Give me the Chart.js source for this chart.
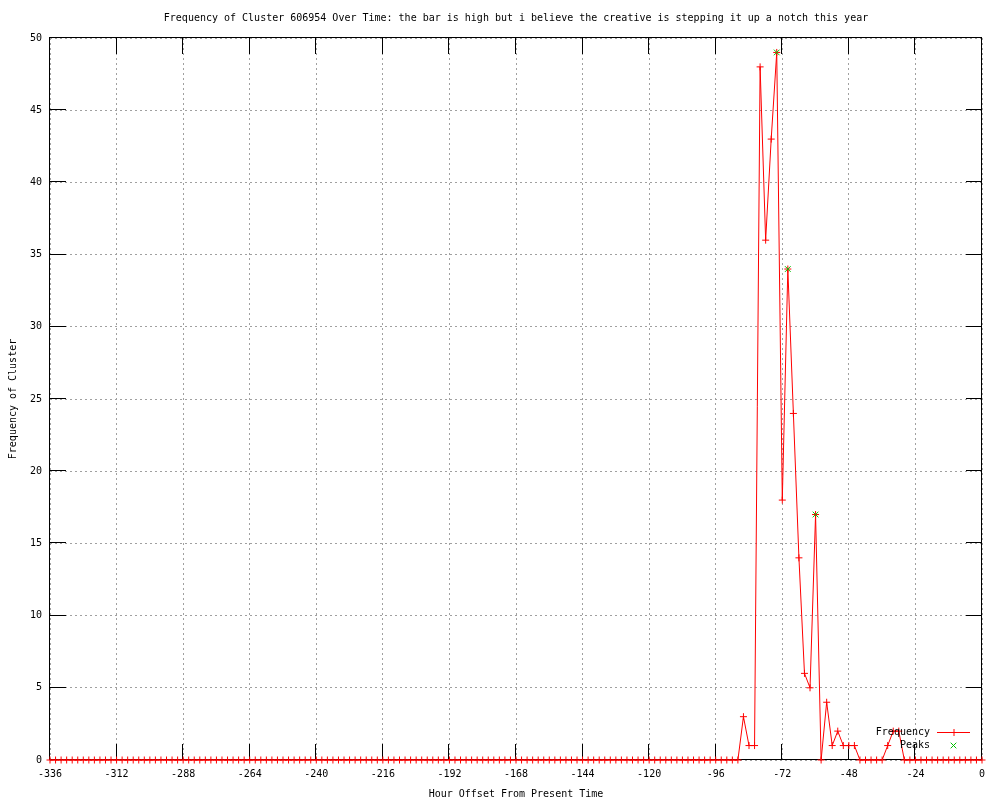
<!DOCTYPE html>
<html>
<head>
<meta charset="utf-8">
<script src="https://cdn.jsdelivr.net/npm/chart.js@4/dist/chart.umd.min.js"></script>
<style>
  body { margin: 0; background: #fff; }
  canvas { display: block; }
</style>
</head>
<body>
<canvas id="chart" width="1000" height="800"></canvas>
<script>
const chartTitle = 'Frequency of Cluster 606954 Over Time: the bar is high but i believe the creative is stepping it up a notch this year';

// one sample every 2 hours, from -336 to 0
const hours = [];
for (let h = -336; h <= 0; h += 2) hours.push(h);

// rows of 12 samples (one day each)
const frequency = [
  0, 0, 0, 0, 0, 0, 0, 0, 0, 0, 0, 0,      // -336
  0, 0, 0, 0, 0, 0, 0, 0, 0, 0, 0, 0,      // -312
  0, 0, 0, 0, 0, 0, 0, 0, 0, 0, 0, 0,      // -288
  0, 0, 0, 0, 0, 0, 0, 0, 0, 0, 0, 0,      // -264
  0, 0, 0, 0, 0, 0, 0, 0, 0, 0, 0, 0,      // -240
  0, 0, 0, 0, 0, 0, 0, 0, 0, 0, 0, 0,      // -216
  0, 0, 0, 0, 0, 0, 0, 0, 0, 0, 0, 0,      // -192
  0, 0, 0, 0, 0, 0, 0, 0, 0, 0, 0, 0,      // -168
  0, 0, 0, 0, 0, 0, 0, 0, 0, 0, 0, 0,      // -144
  0, 0, 0, 0, 0, 0, 0, 0, 0, 0, 0, 0,      // -120
  0, 0, 0, 0, 0, 3, 1, 1, 48, 36, 43, 49,  // -96
  18, 34, 24, 14, 6, 5, 17, 0, 4, 1, 2, 1, // -72
  1, 1, 0, 0, 0, 0, 0, 1, 2, 2, 0, 0,      // -48
  0, 0, 0, 0, 0, 0, 0, 0, 0, 0, 0, 0,      // -24
  0                                        // 0
];

const peakHours = [-74, -70, -60];
const peakValues = [49, 34, 17];

const xTicks = [-336, -312, -288, -264, -240, -216, -192, -168, -144, -120, -96, -72, -48, -24, 0];
const yTicks = [0, 5, 10, 15, 20, 25, 30, 35, 40, 45, 50];

Chart.defaults.font.family = "'DejaVu Sans Mono', monospace";
Chart.defaults.font.size = 10;
Chart.defaults.color = '#000';

const crisp = v => Math.round(v) - 0.5;

// border box, inward tick marks, title and legend drawn gnuplot style
const gnuplotFrame = {
  id: 'gnuplotFrame',
  beforeDatasetsDraw(chart) {
    const { ctx, chartArea: a, scales: { x, y } } = chart;
    const len = 16;
    ctx.save();
    ctx.strokeStyle = '#000';
    ctx.lineWidth = 1;
    ctx.beginPath();
    xTicks.forEach(v => {
      const px = crisp(x.getPixelForValue(v));
      ctx.moveTo(px, a.bottom); ctx.lineTo(px, a.bottom - len);
      ctx.moveTo(px, a.top); ctx.lineTo(px, a.top + len);
    });
    yTicks.forEach(v => {
      const py = crisp(y.getPixelForValue(v));
      ctx.moveTo(a.left, py); ctx.lineTo(a.left + len, py);
      ctx.moveTo(a.right, py); ctx.lineTo(a.right - len, py);
    });
    ctx.stroke();
    ctx.strokeRect(crisp(a.left), crisp(a.top), Math.round(a.right - a.left), Math.round(a.bottom - a.top));
    ctx.restore();
  },
  afterDraw(chart) {
    const { ctx, chartArea: a } = chart;
    ctx.save();
    ctx.font = "10px 'DejaVu Sans Mono', monospace";
    ctx.fillStyle = '#000';
    ctx.textBaseline = 'middle';
    ctx.textAlign = 'center';
    ctx.fillText(chartTitle, (a.left + a.right) / 2, 18);

    // legend
    const sets = chart.data.datasets;
    const textX = a.right - 52, sx0 = a.right - 45, sx1 = a.right - 12, sxm = (sx0 + sx1) / 2;
    const rows = [a.bottom - 27.5, a.bottom - 14.5];
    ctx.textAlign = 'right';
    sets.forEach((ds, i) => {
      const yy = rows[i];
      ctx.fillStyle = '#000';
      ctx.fillText(ds.label, textX, yy);
      ctx.strokeStyle = ds.borderColor;
      ctx.lineWidth = 1;
      ctx.beginPath();
      if (ds.showLine !== false) {
        ctx.moveTo(sx0, yy); ctx.lineTo(sx1, yy);
      }
      const r = ds.pointRadius;
      if (ds.pointStyle === 'cross') {
        ctx.moveTo(sxm - r, yy); ctx.lineTo(sxm + r, yy);
        ctx.moveTo(sxm + 0.5, yy - r); ctx.lineTo(sxm + 0.5, yy + r);
      } else {
        const d = r * Math.SQRT1_2;
        ctx.moveTo(sxm - d, yy - d); ctx.lineTo(sxm + d, yy + d);
        ctx.moveTo(sxm - d, yy + d); ctx.lineTo(sxm + d, yy - d);
      }
      ctx.stroke();
    });
    ctx.restore();
  }
};

new Chart(document.getElementById('chart').getContext('2d'), {
  type: 'line',
  data: {
    datasets: [
      {
        label: 'Frequency',
        data: hours.map((h, i) => ({ x: h, y: frequency[i] })),
        borderColor: '#ff0000',
        backgroundColor: '#ff0000',
        borderWidth: 1,
        pointStyle: 'cross',
        pointRadius: 3.5,
        pointBorderWidth: 1,
        pointBorderColor: '#ff0000',
        tension: 0,
        fill: false,
        clip: false,
        order: 1,
      },
      {
        label: 'Peaks',
        data: peakHours.map((h, i) => ({ x: h, y: peakValues[i] })),
        showLine: false,
        borderColor: '#00c000',
        backgroundColor: '#00c000',
        pointStyle: 'crossRot',
        pointRadius: 4,
        pointBorderWidth: 1,
        pointBorderColor: '#00c000',
        clip: false,
        order: 0,
      },
    ],
  },
  options: {
    responsive: false,
    animation: false,
    events: [],
    layout: { padding: { top: 38, right: 18, left: 0, bottom: 0 } },
    plugins: {
      legend: { display: false },
      title: { display: false },
      tooltip: { enabled: false },
    },
    scales: {
      x: {
        type: 'linear',
        min: -336,
        max: 0,
        afterBuildTicks: s => { s.ticks = xTicks.map(v => ({ value: v })); },
        afterFit: s => { s.height = 40; },
        ticks: { padding: 8, maxRotation: 0, autoSkip: false, color: '#000' },
        grid: { color: '#a0a0a0', drawTicks: false, lineWidth: 1 },
        border: { display: false, dash: [2, 3] },
        title: { display: true, text: 'Hour Offset From Present Time', padding: { top: 1, bottom: 0 }, color: '#000' },
      },
      y: {
        min: 0,
        max: 50,
        afterBuildTicks: s => { s.ticks = yTicks.map(v => ({ value: v })); },
        afterFit: s => { s.width = 50; },
        ticks: { padding: 8, color: '#000' },
        grid: { color: '#a0a0a0', drawTicks: false, lineWidth: 1 },
        border: { display: false, dash: [2, 3] },
        title: { display: true, text: 'Frequency of Cluster', padding: { top: 7, bottom: 0 }, color: '#000' },
      },
    },
  },
  plugins: [gnuplotFrame],
});
</script>
</body>
</html>
